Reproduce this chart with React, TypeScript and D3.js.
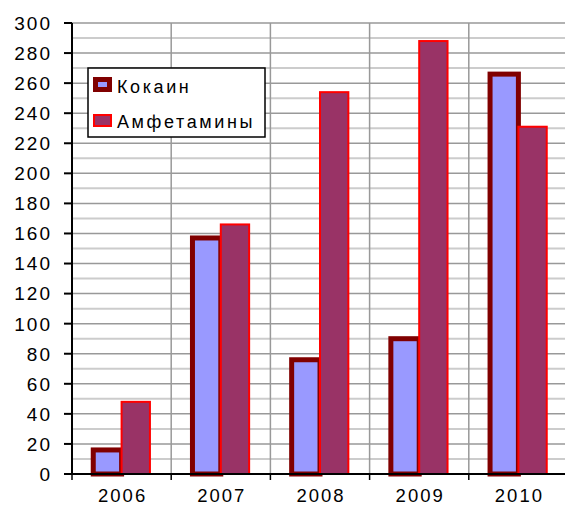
// @ts-nocheck
import React from "react";
import { scaleBand, scaleLinear, range } from "d3";

const years = ["2006", "2007", "2008", "2009", "2010"];
const seriesNames = ["Кокаин", "Амфетамины"];
const cocaine = [16, 157, 76, 90, 266];
const amphetamines = [48, 166, 254, 288, 231];
const yTicks = range(0, 301, 20);
const yMinor = range(10, 300, 20);

const W = 565;
const H = 506;
const M = { left: 72, right: -3, top: 23, bottom: 32 };

const seriesStyle = [
  { fill: "#9999FF", stroke: "#800000", sw: 5 },
  { fill: "#993366", stroke: "#FF0000", sw: 2 },
];

export default function App() {
  const x = scaleBand().domain(years).range([M.left, W - M.right]).padding(0);
  const inner = scaleBand()
    .domain(seriesNames)
    .range([0, x.bandwidth()])
    .paddingInner(0)
    .paddingOuter(0.75);
  const y = scaleLinear().domain([0, 300]).range([H - M.bottom, M.top]);

  const values = [cocaine, amphetamines];
  const font = "Arial, 'Liberation Sans', sans-serif";
  const ls = 2;

  return (
    <div style={{ position: "absolute", left: 0, top: 0 }}>
      <svg width={W} height={H} style={{ display: "block", background: "#fff" }} fontFamily={font}>
        {/* minor grid */}
        {yMinor.map((v) => (
          <line key={"m" + v} x1={M.left} x2={W} y1={y(v)} y2={y(v)} stroke="#cccccc" strokeWidth={2} />
        ))}
        {/* major grid */}
        {yTicks.map((v) => (
          <line key={"g" + v} x1={M.left} x2={W} y1={y(v)} y2={y(v)} stroke="#999999" strokeWidth={1.5} />
        ))}
        {/* vertical grid */}
        {years.map((yr) => (
          <line key={"v" + yr} x1={x(yr) + x.bandwidth()} x2={x(yr) + x.bandwidth()} y1={M.top} y2={y(0)} stroke="#999999" strokeWidth={1.5} />
        ))}

        {/* bars */}
        {years.map((yr, i) => (
          <g key={"b" + yr}>
            {seriesNames.map((s, si) => {
              const v = values[si][i];
              const st = seriesStyle[si];
              return (
                <rect
                  key={s}
                  x={x(yr) + inner(s)}
                  y={y(v)}
                  width={inner.bandwidth()}
                  height={y(0) - y(v)}
                  fill={st.fill}
                  stroke={st.stroke}
                  strokeWidth={st.sw}
                />
              );
            })}
          </g>
        ))}

        {/* axes */}
        <line x1={M.left} x2={M.left} y1={M.top} y2={y(0)} stroke="#000" strokeWidth={2} />
        <line x1={M.left - 8} x2={W} y1={y(0)} y2={y(0)} stroke="#000" strokeWidth={2} />
        {yTicks.map((v) => (
          <g key={"t" + v}>
            <line x1={M.left - 8} x2={M.left} y1={y(v)} y2={y(v)} stroke="#000" strokeWidth={2} />
            <text x={50 + ls} y={y(v)} dy="0.36em" textAnchor="end" fontSize={19} letterSpacing={ls} fill="#000">
              {v}
            </text>
          </g>
        ))}
        {[M.left, ...years.map((yr) => x(yr) + x.bandwidth())].map((px, i) => (
          <line key={"xt" + i} x1={px} x2={px} y1={y(0)} y2={y(0) + 6} stroke="#000" strokeWidth={1.5} />
        ))}
        {years.map((yr) => (
          <text key={"xl" + yr} x={x(yr) + x.bandwidth() / 2 + ls / 2} y={502} textAnchor="middle" fontSize={18.5} letterSpacing={ls} fill="#000">
            {yr}
          </text>
        ))}

        {/* legend */}
        <g transform="translate(88,68)">
          <rect x={0} y={0} width={177} height={69} fill="#fff" stroke="#000" strokeWidth={1.5} />
          {seriesNames.map((s, si) => {
            const st = seriesStyle[si];
            const top = si === 0 ? 9 : 46;
            const h = si === 0 ? 15 : 13;
            return (
              <g key={"lg" + s}>
                <rect x={5 + st.sw / 2} y={top + st.sw / 2} width={19 - st.sw} height={h - st.sw} fill={st.fill} stroke={st.stroke} strokeWidth={st.sw} />
                <text x={29} y={si === 0 ? 25 : 60} fontSize={18} letterSpacing={2.6} fill="#000">
                  {s}
                </text>
              </g>
            );
          })}
        </g>
      </svg>
    </div>
  );
}
